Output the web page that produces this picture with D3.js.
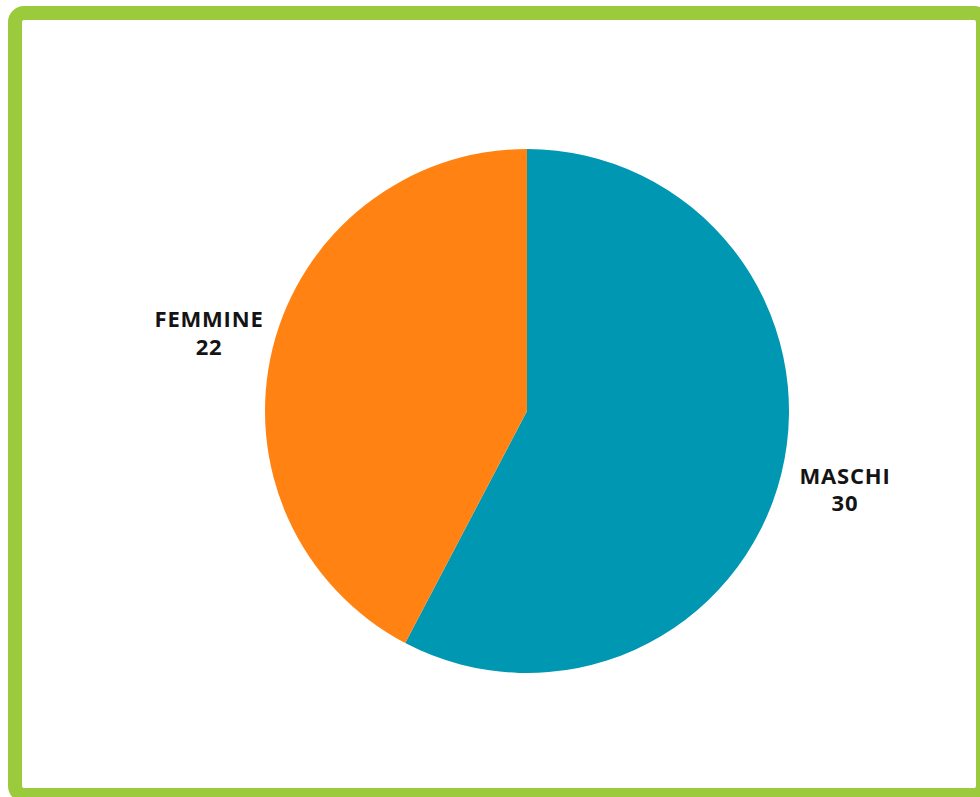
<!DOCTYPE html>
<html>
<head>
<meta charset="utf-8">
<script src="https://cdn.jsdelivr.net/npm/d3@7"></script>
<style>
  body { margin: 0; background: #fff; overflow: hidden; }
  .label { font-family: "Open Sans", Lato, sans-serif; font-weight: 700; font-size: 22px; letter-spacing: 0.8px; fill: #141414; }
</style>
</head>
<body>
<svg width="980" height="797"></svg>
<script>
var categories = ["MASCHI", "FEMMINE"]
var values = [30, 22]
var colors = ["#0097b2", "#ff8213"]

var svg = d3.select("svg")

// green frame, cut off on the right and bottom
svg.append("rect")
  .attr("x", 15).attr("y", 13)
  .attr("width", 968).attr("height", 782)
  .attr("rx", 9)
  .attr("fill", "none")
  .attr("stroke", "#9bca3c")
  .attr("stroke-width", 14)

var cx = 527, cy = 411, r = 262

var data = categories.map((c, i) => ({name: c, value: values[i]}))

var pie = d3.pie().sort(null).value(d => d.value)
var arc = d3.arc().innerRadius(0).outerRadius(r)
var labelArc = d3.arc().innerRadius(r * 1.25).outerRadius(r * 1.25)

var color = d3.scaleOrdinal().domain(categories).range(colors)

var g = svg.append("g").attr("transform", `translate(${cx},${cy})`)

var arcs = pie(data)

g.selectAll("path")
  .data(arcs)
  .enter().append("path")
  .attr("d", arc)
  .attr("fill", d => color(d.data.name))

var lab = g.selectAll("text")
  .data(arcs)
  .enter().append("text")
  .attr("class", "label")
  .attr("text-anchor", "middle")
  .attr("transform", d => `translate(${labelArc.centroid(d)})`)

lab.append("tspan").attr("x", 0).attr("dy", "-0.25em").text(d => d.data.name)
lab.append("tspan").attr("x", 0).attr("dy", "1.25em").text(d => d.data.value)
</script>
</body>
</html>
